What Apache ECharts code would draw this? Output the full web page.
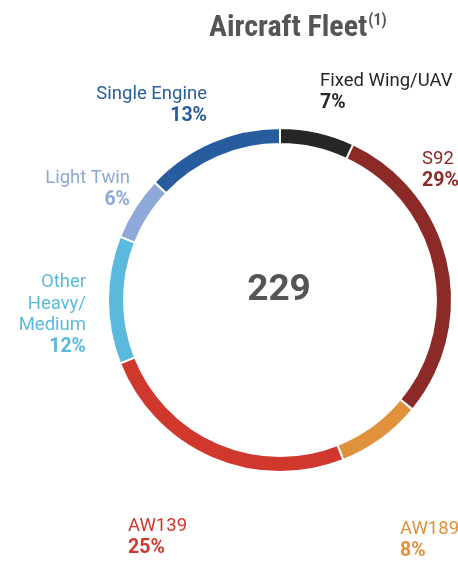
<!DOCTYPE html>
<html>
<head>
<meta charset="utf-8">
<script src="https://cdn.jsdelivr.net/npm/echarts@6/dist/echarts.min.js"></script>
<style>
  html, body { margin: 0; padding: 0; background: #fff; }
  #chart { width: 458px; height: 561px; }
</style>
</head>
<body>
<div id="chart"></div>
<script>
(function () {
  // 数据
  const names = ['Fixed Wing/UAV', 'S92', 'AW189', 'AW139', 'Other\nHeavy/\nMedium', 'Light Twin', 'Single Engine']
  const shares = [7, 29, 8, 25, 12, 6, 13]
  const colors = ['#262626', '#8b2a26', '#e0913c', '#d1382d', '#5bbadb', '#8ea8d8', '#275d9e']
  const total = 229

  // 标签位置 [x, y, align]
  const labelPos = [
    [320, 71, 'left'],
    [422, 149, 'left'],
    [400, 519, 'left'],
    [128, 516, 'left'],
    [86, 272, 'right'],
    [130, 168, 'right'],
    [207, 84, 'right']
  ]

  const font = 'Roboto, "Liberation Sans", sans-serif'
  let myChart = echarts.init(document.getElementById('chart'))

  let option = {
    animation: false,
    title: {
      text: 'Aircraft Fleet{s|(1)}',
      left: 204,
      top: 8,
      textStyle: {
        fontFamily: '"Liberation Sans Narrow", "Roboto Condensed", ' + font,
        fontSize: 30,
        fontWeight: 'bold',
        color: '#555',
        rich: {
          s: { fontSize: 16, fontWeight: 'bold', color: '#555', verticalAlign: 'top', padding: [0, 0, 14, 1] }
        }
      }
    },
    graphic: [{
      type: 'text',
      x: 279,
      y: 291,
      style: {
        text: String(total),
        align: 'center',
        verticalAlign: 'middle',
        fontFamily: font,
        fontSize: 37,
        fontWeight: 'bold',
        fill: '#555'
      }
    }],
    series: [{
      type: 'pie',
      center: [280, 300],
      radius: [156, 172],
      startAngle: 90,
      clockwise: true,
      itemStyle: { borderColor: '#fff', borderWidth: 2 },
      labelLine: { show: false },
      label: {
        show: true,
        position: 'outside',
        overflow: 'none',
        edgeDistance: 0,
        lineHeight: 21.5,
        formatter: function (p) {
          let lines = p.name.split('\n').map(function (s) { return '{n|' + s + '}' })
          return lines.join('\n') + '\n{p|' + p.value + '%}'
        }
      },
      labelLayout: function (params) {
        let pos = labelPos[params.dataIndex]
        return { x: pos[0], y: pos[1], align: pos[2], verticalAlign: 'top', hideOverlap: false, moveOverlap: null }
      },
      data: names.map(function (n, i) {
        let c = colors[i]
        return {
          name: n,
          value: shares[i],
          itemStyle: { color: c },
          label: {
            rich: {
              n: { fontFamily: font, fontSize: 18.5, color: c, lineHeight: 21.5, align: labelPos[i][2] },
              p: { fontFamily: font, fontSize: 19.5, fontWeight: 'bold', color: c, lineHeight: 21.5, align: labelPos[i][2] }
            }
          }
        }
      })
    }]
  }

  myChart.setOption(option)
})();
</script>
</body>
</html>
